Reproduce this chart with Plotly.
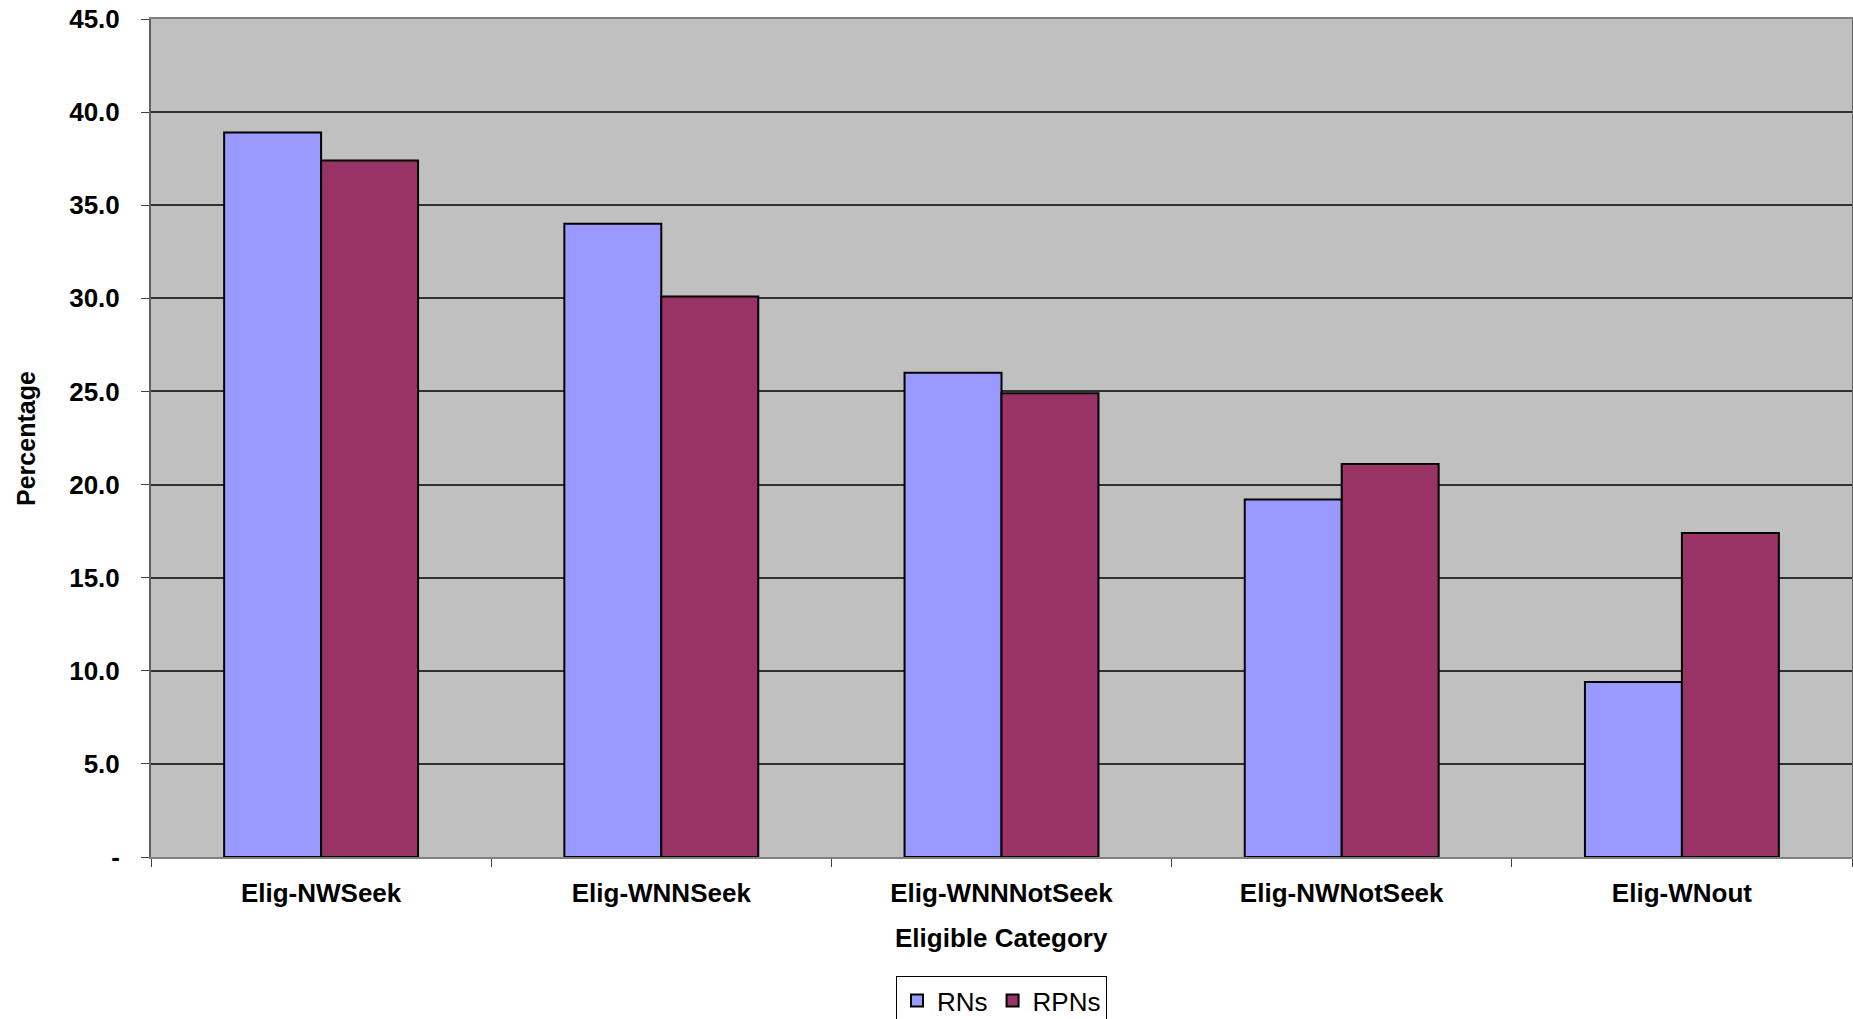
import plotly.graph_objects as go

# Share of nurses by eligibility category
categories = ["Elig-NWSeek", "Elig-WNNSeek", "Elig-WNNNotSeek", "Elig-NWNotSeek", "Elig-WNout"]
rns = [38.9, 34.0, 26.0, 19.2, 9.4]
rpns = [37.4, 30.1, 24.9, 21.1, 17.4]

y_tickvals = [0, 5, 10, 15, 20, 25, 30, 35, 40, 45]
y_ticktext = ["-", "5.0", "10.0", "15.0", "20.0", "25.0", "30.0", "35.0", "40.0", "45.0"]

FONT = "Liberation Sans, Arial, sans-serif"

fig = go.Figure()
fig.add_trace(go.Bar(
    name="RNs", x=categories, y=rns,
    marker=dict(color="#9999FF", line=dict(color="#000000", width=2)),
))
fig.add_trace(go.Bar(
    name="RPNs", x=categories, y=rpns,
    marker=dict(color="#993366", line=dict(color="#000000", width=2)),
))

fig.update_layout(
    width=1853, height=1019,
    margin=dict(l=151, r=1, t=19, b=162, autoexpand=False),
    paper_bgcolor="#FFFFFF",
    plot_bgcolor="#C0C0C0",
    barmode="group",
    bargap=0.43,
    bargroupgap=0,
    font=dict(family=FONT, color="#000000"),
    showlegend=True,
    legend=dict(
        orientation="h",
        x=0.5, xanchor="center",
        y=-0.142, yanchor="top",
        bordercolor="#000000", borderwidth=1,
        font=dict(family=FONT, size=26, color="#000000"),
        itemsizing="constant",
        itemwidth=30,
    ),
    annotations=[
        dict(
            text="<b>Percentage</b>", textangle=-90,
            xref="paper", yref="paper", x=-0.0735, y=0.5,
            xanchor="center", yanchor="middle", showarrow=False,
            font=dict(family=FONT, size=25, color="#000000"),
        ),
        dict(
            text="<b>Eligible Category</b>",
            xref="paper", yref="paper", x=0.5, y=-0.0967,
            xanchor="center", yanchor="middle", showarrow=False,
            font=dict(family=FONT, size=26, color="#000000"),
        ),
    ],
)

fig.update_xaxes(
    type="category",
    showline=True, linecolor="#808080", linewidth=2, mirror=True,
    ticks="outside", tickson="boundaries", ticklen=8, tickcolor="#404040", tickwidth=1,
    showgrid=False,
    tickfont=dict(family=FONT, size=26, color="#000000", weight="bold"),
    ticklabelstandoff=12,
)

fig.update_yaxes(
    range=[0, 45],
    tickvals=y_tickvals, ticktext=y_ticktext,
    showline=True, linecolor="#606060", linewidth=2, mirror=True,
    ticks="outside", ticklen=8, tickcolor="#404040", tickwidth=1,
    showgrid=True, gridcolor="#303030", gridwidth=1.5,
    zeroline=False,
    tickfont=dict(family=FONT, size=26, color="#000000", weight="bold"),
    ticklabelstandoff=16,
)

fig.write_html("out.html")
